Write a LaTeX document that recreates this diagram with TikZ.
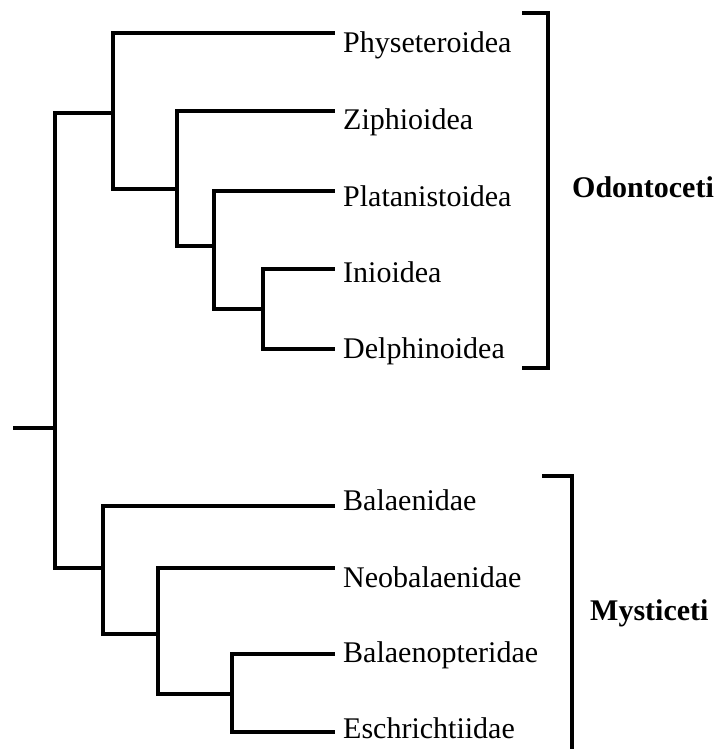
\documentclass[tikz,border=0pt]{standalone}
\usepackage{fontspec}
\setmainfont{Liberation Serif}
\usetikzlibrary{positioning, calc}

\begin{document}
\begin{tikzpicture}[
    x=1pt, y=-1pt,
    branch/.style={line width=3.4pt},
    bracket/.style={line width=3.4pt},
    taxon/.style={anchor=base west, inner sep=0pt, font=\fontsize{30}{36}\selectfont},
    clade/.style={anchor=base west, inner sep=0pt, font=\fontsize{30}{36}\selectfont\bfseries}
]
\useasboundingbox (0,0) rectangle (722,749);

% internal nodes of the tree
\coordinate (base) at (13,428);
\coordinate (root) at (55,428);
\coordinate (odo) at (113,113);
\coordinate (n2) at (177,189);
\coordinate (n3) at (214,246);
\coordinate (n4) at (263,309);
\coordinate (mys) at (103,568);
\coordinate (m2) at (158,634);
\coordinate (m3) at (232,694);

% branch tips
\coordinate (phy) at (335,33);
\coordinate (zip) at (335,111);
\coordinate (pla) at (335,191);
\coordinate (ini) at (335,269);
\coordinate (del) at (335,349);
\coordinate (bal) at (335,506);
\coordinate (neo) at (335,568);
\coordinate (bpt) at (335,654);
\coordinate (esc) at (335,732);

% taxa
\node[taxon] (lphy) at (343,53) {Physeteroidea};
\node[taxon] (lzip) at (343,130) {Ziphioidea};
\node[taxon] (lpla) at (343,206) {Platanistoidea};
\node[taxon] (lini) at (343,282) {Inioidea};
\node[taxon] (ldel) at (343,358) {Delphinoidea};
\node[taxon] (lbal) at (343,510) {Balaenidae};
\node[taxon] (lneo) at (343,587) {Neobalaenidae};
\node[taxon] (lbpt) at (343,662) {Balaenopteridae};
\node[taxon] (lesc) at (343,738) {Eschrichtiidae};

% branches
\draw[branch] (base) -- (root);
\draw[branch] (root) |- (odo);
\draw[branch] (root) |- (mys);
\draw[branch] (odo) |- (phy);
\draw[branch] (odo) |- (n2);
\draw[branch] (n2) |- (zip);
\draw[branch] (n2) |- (n3);
\draw[branch] (n3) |- (pla);
\draw[branch] (n3) |- (n4);
\draw[branch] (n4) |- (ini);
\draw[branch] (n4) |- (del);
\draw[branch] (mys) |- (bal);
\draw[branch] (mys) |- (m2);
\draw[branch] (m2) |- (neo);
\draw[branch] (m2) |- (m3);
\draw[branch] (m3) |- (bpt);
\draw[branch] (m3) |- (esc);

% brackets
\coordinate (oTl) at (522,13);
\coordinate (oT) at (548,13);
\coordinate (oB) at (548,368);
\coordinate (oBl) at (522,368);
\coordinate (mTl) at (542,476);
\coordinate (mT) at (572,476);
\coordinate (mB) at (572,755);
\draw[bracket] (oTl) -- (oT) -- (oB) -- (oBl);
\draw[bracket] (mTl) -- (mT) -- (mB);

\node[clade] (odontoceti) at (572,197) {Odontoceti};
\node[clade] (mysticeti) at (590,620) {Mysticeti};

\end{tikzpicture}
\end{document}
